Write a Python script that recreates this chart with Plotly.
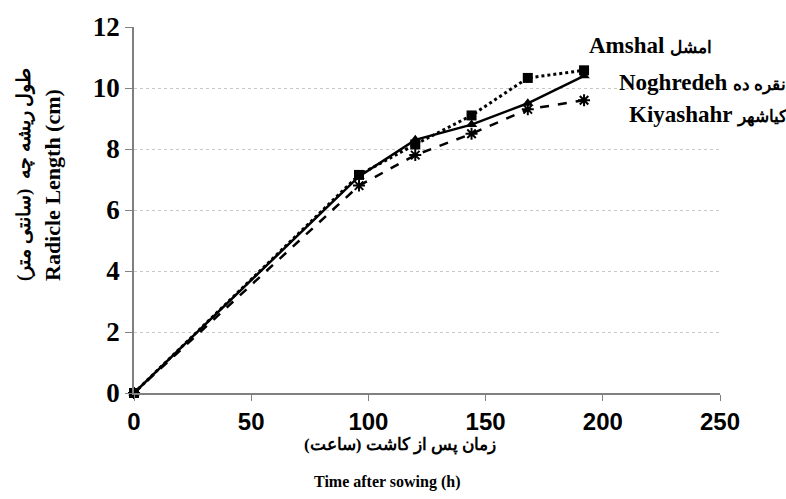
import plotly.graph_objects as go

hours = [0, 96, 120, 144, 168, 192]
amshal = [0, 7.15, 8.15, 9.1, 10.33, 10.58]      # squares, dotted
noghredeh = [0, 7.1, 8.3, 8.8, 9.5, 10.4]        # triangles, solid
kiyashahr = [0, 6.8, 7.8, 8.5, 9.3, 9.6]         # asterisks, dashed

x_ticks = [0, 50, 100, 150, 200, 250]
y_ticks = [0, 2, 4, 6, 8, 10, 12]

fig = go.Figure()
fig.add_trace(go.Scatter(x=hours, y=kiyashahr, mode="lines+markers",
                         line=dict(color="black", width=2.5, dash="dash"),
                         marker=dict(symbol="asterisk-open", size=10, color="black",
                                     line=dict(color="black", width=2)),
                         cliponaxis=False, showlegend=False))
fig.add_trace(go.Scatter(x=hours, y=noghredeh, mode="lines+markers",
                         line=dict(color="black", width=2.5),
                         marker=dict(symbol="triangle-up", size=10, color="black"),
                         cliponaxis=False, showlegend=False))
fig.add_trace(go.Scatter(x=hours, y=amshal, mode="lines+markers",
                         line=dict(color="black", width=3, dash="dot"),
                         marker=dict(symbol="square", size=10, color="black"),
                         cliponaxis=False, showlegend=False))

serif = "Liberation Serif, DejaVu Serif"
sans = "Liberation Sans"

L, R, T, B = 134, 720, 27, 393

fig.update_layout(
    width=786, height=499,
    margin=dict(l=L, r=786 - R, t=T, b=499 - B),
    plot_bgcolor="white", paper_bgcolor="white",
    xaxis=dict(range=[0, 250], tickvals=x_ticks, ticktext=[str(v) for v in x_ticks],
               showgrid=False, zeroline=False, showline=True, linecolor="#808080",
               linewidth=1.5, ticks="outside", ticklen=6, tickcolor="#808080",
               tickfont=dict(family=sans, size=24, color="black", weight="bold")),
    yaxis=dict(range=[0, 12], tickvals=y_ticks, ticktext=[str(v) for v in y_ticks],
               showgrid=True, gridcolor="#c8c8c8", griddash="dot", gridwidth=1,
               zeroline=False, showline=True, linecolor="#808080", linewidth=1.5,
               ticks="outside", ticklen=7, tickcolor="#808080",
               tickfont=dict(family=serif, size=27, color="black", weight="bold")),
)


def px(x, y):
    return (x - L) / (R - L), (B - y) / (B - T)


labels = [
    dict(x=587, y=45, en="Amshal", fa="امشل"),
    dict(x=617, y=83, en="Noghredeh", fa="نقره ده"),
    dict(x=627, y=114, en="Kiyashahr", fa="کیاشهر"),
]
for a in labels:
    xp, yp = px(a["x"], a["y"])
    text = "<b>%s <span style='font-size:17px'>%s</span></b>" % (a["en"], a["fa"])
    fig.add_annotation(x=xp, y=yp, xref="paper", yref="paper",
                       xanchor="left", yanchor="middle", showarrow=False,
                       text=text, font=dict(family=serif, size=23, color="black"))

titles = [
    dict(x=400, y=445, text="<b>زمان پس از کاشت (ساعت)</b>", size=17),
    dict(x=387, y=482, text="<b>Time after sowing (h)</b>", size=16),
]
for a in titles:
    xp, yp = px(a["x"], a["y"])
    fig.add_annotation(x=xp, y=yp, xref="paper", yref="paper",
                       xanchor="center", yanchor="middle", showarrow=False,
                       text=a["text"], font=dict(family=serif, size=a["size"], color="black"))

xp, yp = px(24, 175)
fig.add_annotation(x=xp, y=yp, xref="paper", yref="paper",
                   xanchor="center", yanchor="middle", showarrow=False, textangle=-90,
                   text="<b>طول ریشه چه  (سانتی متر)</b>",
                   font=dict(family=serif, size=19, color="black"))
xp, yp = px(52, 185)
fig.add_annotation(x=xp, y=yp, xref="paper", yref="paper",
                   xanchor="center", yanchor="middle", showarrow=False, textangle=-90,
                   text="<b>Radicle Length (cm)</b>",
                   font=dict(family=serif, size=22, color="black"))

fig.write_html("out.html")
